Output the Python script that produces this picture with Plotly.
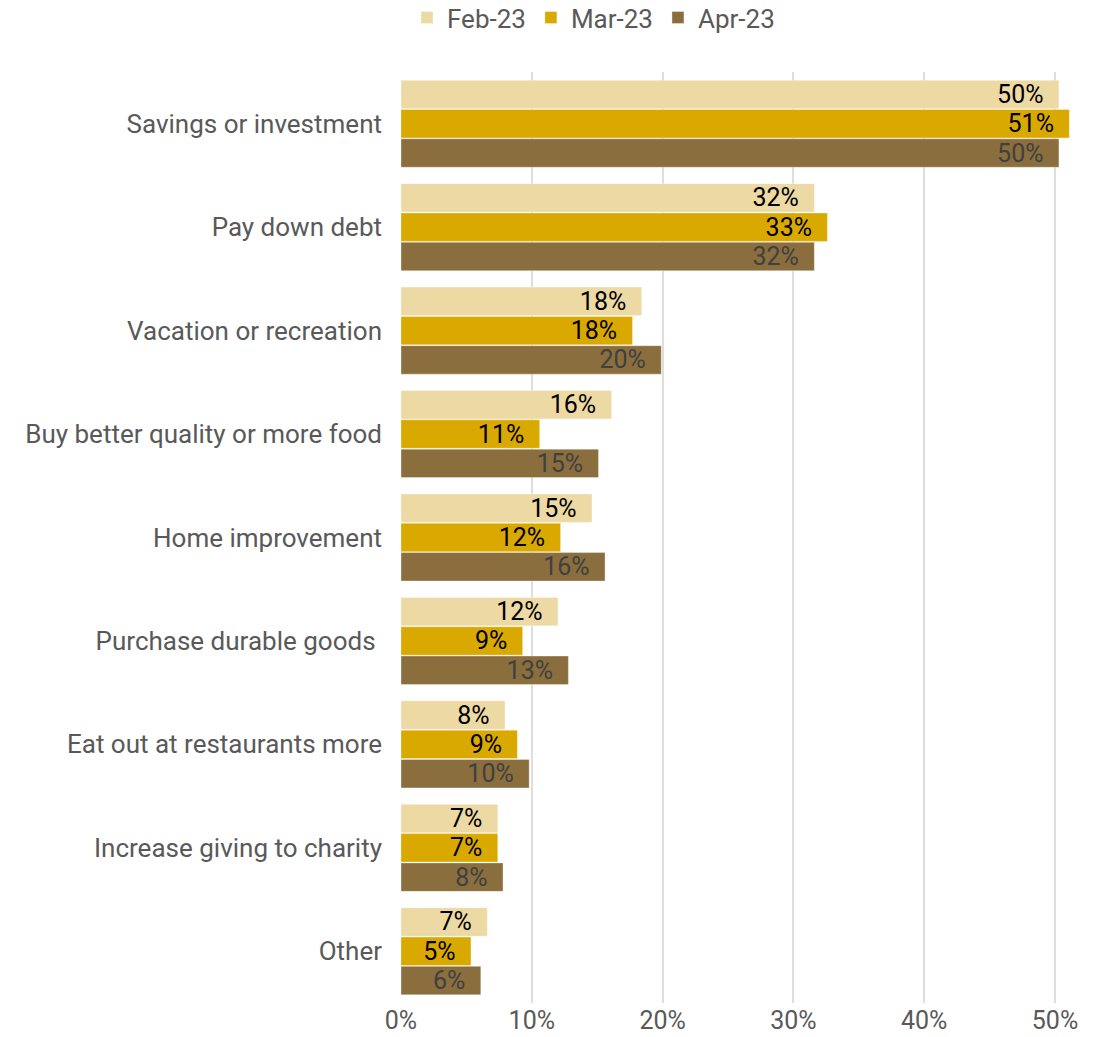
import plotly.graph_objects as go

# Survey responses: how households plan to use extra money
categories = [
    "Savings or investment",
    "Pay down debt",
    "Vacation or recreation",
    "Buy better quality or more food",
    "Home improvement",
    "Purchase durable goods ",
    "Eat out at restaurants more",
    "Increase giving to charity",
    "Other",
]

feb_23 = [0.503, 0.316, 0.184, 0.161, 0.146, 0.120, 0.0795, 0.074, 0.066]
mar_23 = [0.511, 0.326, 0.177, 0.106, 0.122, 0.093, 0.089, 0.074, 0.0535]
apr_23 = [0.503, 0.316, 0.199, 0.151, 0.156, 0.128, 0.098, 0.078, 0.061]

x_ticks = [0, 0.1, 0.2, 0.3, 0.4, 0.5]

series = [
    ("Feb-23", feb_23, "#EDD9A3", "#000000"),
    ("Mar-23", mar_23, "#DAA900", "#000000"),
    ("Apr-23", apr_23, "#8B6E3D", "#404040"),
]

FONT = "Roboto, Arial, sans-serif"
NBSP = "\u00a0"

fig = go.Figure()
for name, vals, color, txt_color in series:
    fig.add_trace(go.Bar(
        name=name,
        y=categories,
        x=vals,
        orientation="h",
        marker=dict(color=color, line=dict(color="rgba(255,255,255,0.35)", width=1)),
        texttemplate="%{x:.0%}" + NBSP * 2,
        textposition="inside",
        insidetextanchor="end",
        constraintext="none",
        textangle=0,
        textfont=dict(family=FONT, size=25, color=txt_color),
        hoverinfo="skip",
    ))

fig.update_layout(
    width=1093,
    height=1037,
    margin=dict(l=401, r=21, t=72, b=34),
    paper_bgcolor="white",
    plot_bgcolor="white",
    barmode="group",
    bargap=0.15,
    bargroupgap=0.03,
    font=dict(family=FONT, size=25, color="#595959"),
    legend=dict(
        orientation="h",
        x=0.543, xref="container",
        xanchor="center",
        y=0.983, yref="container",
        yanchor="middle",
        font=dict(family=FONT, size=26, color="#595959"),
        itemwidth=30,
        traceorder="normal",
    ),
    xaxis=dict(
        range=[0, 0.513],
        tickvals=x_ticks,
        tickformat=".0%",
        showgrid=True,
        gridcolor="#DEDEDE",
        gridwidth=1.5,
        zeroline=False,
        showline=False,
        ticks="",
        automargin=False,
        tickfont=dict(family=FONT, size=25, color="#595959"),
    ),
    yaxis=dict(
        autorange="reversed",
        showgrid=False,
        showline=False,
        ticks="",
        automargin=False,
        ticklabelstandoff=18,
        tickfont=dict(family=FONT, size=26, color="#595959"),
    ),
)

fig.write_html("out.html")
